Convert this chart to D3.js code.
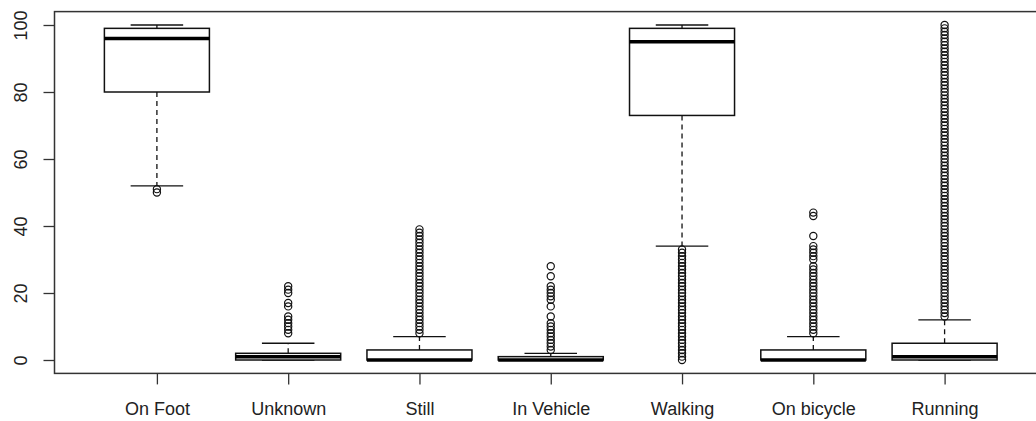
<!DOCTYPE html>
<html>
<head>
<meta charset="utf-8">
<script src="https://cdn.jsdelivr.net/npm/d3@7"></script>
<style>
  html, body { margin: 0; padding: 0; background: #fff; }
  svg { display: block; font-family: "Liberation Sans", Arial, sans-serif; }
</style>
</head>
<body>
<svg id="chart" width="1036" height="421"></svg>
<script>
// Activity confidence distributions (percent), one box per detected activity
const categories = ["On Foot", "Unknown", "Still", "In Vehicle", "Walking", "On bicycle", "Running"];
const whiskerLow  = [52, 0, 0, 0, 34, 0, 0];
const q1          = [80, 0, 0, 0, 73, 0, 0];
const medians     = [96, 1, 0, 0, 95, 0, 1];
const q3          = [99, 2, 3, 1, 99, 3, 5];
const whiskerHigh = [100, 5, 7, 2, 100, 7, 12];

const outliersOnFoot    = [51, 50];
const outliersUnknown   = [22, 21, 20, 17, 16, 13, 12, 11, 10, 9, 8];
const outliersStill     = [39, 38, 37, 36, 35, 34, 33, 32, 31, 30, 29, 28, 27, 26, 25, 24, 23, 22, 21, 20,
                           19, 18, 17, 16, 15, 14, 13, 12, 11, 10, 9, 8];
const outliersInVehicle = [28, 25, 22, 21, 20, 19, 18, 16, 13, 11, 10, 9, 8, 7, 6, 5, 4, 3];
const outliersWalking   = [33, 32, 31, 30, 29, 28, 27, 26, 25, 24, 23, 22, 21, 20, 19, 18, 17, 16, 15, 14,
                           13, 12, 11, 10, 9, 8, 7, 6, 5, 4, 3, 2, 1, 0];
const outliersBicycle   = [44, 43, 37, 34, 33, 32, 31, 30, 28, 27, 26, 25, 24, 23, 22, 21, 20, 19, 18, 17,
                           16, 15, 14, 13, 12, 11, 10, 9, 8];
const outliersRunning   = [100, 99, 98, 97, 96, 95, 94, 93, 92, 91, 90, 89, 88, 87, 86, 85, 84, 83, 82, 81,
                           80, 79, 78, 77, 76, 75, 74, 73, 72, 71, 70, 69, 68, 67, 66, 65, 64, 63, 62, 61,
                           60, 59, 58, 57, 56, 55, 54, 53, 52, 51, 50, 49, 48, 47, 46, 45, 44, 43, 42, 41,
                           40, 39, 38, 37, 36, 35, 34, 33, 32, 31, 30, 29, 28, 27, 26, 25, 24, 23, 22, 21,
                           20, 19, 18, 17, 16, 15, 14, 13];
const outliers = [outliersOnFoot, outliersUnknown, outliersStill, outliersInVehicle,
                  outliersWalking, outliersBicycle, outliersRunning];

const yTicks = [0, 20, 40, 60, 80, 100];

const svg = d3.select("#chart");
svg.append("rect").attr("width", 1036).attr("height", 421).attr("fill", "#fff");

// Plot region with R-style 4% padding on both axes
const x = d3.scaleLinear().domain([0.22, 7.78]).range([54.5, 1047]);
const y = d3.scaleLinear().domain([-4, 104]).range([373.4, 11.6]);
const boxW = (x(1.8) - x(1));   // 0.8 of category spacing
const capW = boxW / 2;

const boxes = categories.map((c, i) => ({
  name: c, pos: i + 1,
  lo: whiskerLow[i], q1: q1[i], med: medians[i], q3: q3[i], hi: whiskerHigh[i],
  out: outliers[i]
}));

const g = svg.append("g");

const box = g.selectAll("g.box").data(boxes).join("g").attr("class", "box");

// dashed whiskers
box.filter(d => d.hi > d.q3).append("line")
  .attr("x1", d => x(d.pos)).attr("x2", d => x(d.pos))
  .attr("y1", d => y(d.q3)).attr("y2", d => y(d.hi))
  .attr("stroke", "#111").attr("stroke-width", 1.3).attr("stroke-dasharray", "5,4");
box.filter(d => d.lo < d.q1).append("line")
  .attr("x1", d => x(d.pos)).attr("x2", d => x(d.pos))
  .attr("y1", d => y(d.q1)).attr("y2", d => y(d.lo))
  .attr("stroke", "#111").attr("stroke-width", 1.3).attr("stroke-dasharray", "5,4");

// whisker staples
box.append("line")
  .attr("x1", d => x(d.pos) - capW / 2).attr("x2", d => x(d.pos) + capW / 2)
  .attr("y1", d => y(d.hi)).attr("y2", d => y(d.hi))
  .attr("stroke", "#111").attr("stroke-width", 1.3);
box.append("line")
  .attr("x1", d => x(d.pos) - capW / 2).attr("x2", d => x(d.pos) + capW / 2)
  .attr("y1", d => y(d.lo)).attr("y2", d => y(d.lo))
  .attr("stroke", "#111").attr("stroke-width", 1.3);

// interquartile boxes
box.append("rect")
  .attr("x", d => x(d.pos) - boxW / 2).attr("width", boxW)
  .attr("y", d => y(d.q3)).attr("height", d => Math.max(0, y(d.q1) - y(d.q3)))
  .attr("fill", "#fff").attr("stroke", "#111").attr("stroke-width", 1.5);

// medians
box.append("line")
  .attr("x1", d => x(d.pos) - boxW / 2).attr("x2", d => x(d.pos) + boxW / 2)
  .attr("y1", d => y(d.med)).attr("y2", d => y(d.med))
  .attr("stroke", "#000").attr("stroke-width", 3.5);

// outliers
box.each(function (d) {
  d3.select(this).selectAll("circle").data(d.out).join("circle")
    .attr("cx", x(d.pos)).attr("cy", v => y(v)).attr("r", 3.6)
    .attr("fill", "none").attr("stroke", "#111").attr("stroke-width", 1.2);
});

// frame
svg.append("rect")
  .attr("x", x.range()[0]).attr("y", y.range()[1])
  .attr("width", x.range()[1] - x.range()[0]).attr("height", y.range()[0] - y.range()[1])
  .attr("fill", "none").attr("stroke", "#333").attr("stroke-width", 1.5);

// y axis
const yAxis = svg.append("g").attr("transform", `translate(${x.range()[0]},0)`)
  .call(d3.axisLeft(y).tickValues(yTicks).tickSize(11).tickFormat(d3.format("d")));
yAxis.select(".domain").remove();
yAxis.selectAll(".tick line").attr("stroke", "#333").attr("stroke-width", 1.3);
yAxis.selectAll(".tick text")
  .attr("x", null).attr("dy", null)
  .attr("transform", "translate(-34,0) rotate(-90)")
  .attr("text-anchor", "middle").attr("dominant-baseline", "central")
  .attr("font-size", 18).attr("font-family", "Liberation Sans, Arial, sans-serif").attr("fill", "#222");

// x axis
const xAxis = svg.append("g").attr("transform", `translate(0,${y.range()[0]})`)
  .call(d3.axisBottom(x).tickValues(boxes.map(d => d.pos)).tickSize(11)
    .tickFormat((d, i) => categories[i]));
xAxis.select(".domain").remove();
xAxis.selectAll(".tick line").attr("stroke", "#333").attr("stroke-width", 1.3);
xAxis.selectAll(".tick text")
  .attr("y", 35).attr("dy", "0.35em")
  .attr("font-size", 18).attr("font-family", "Liberation Sans, Arial, sans-serif").attr("fill", "#222");
</script>
</body>
</html>
